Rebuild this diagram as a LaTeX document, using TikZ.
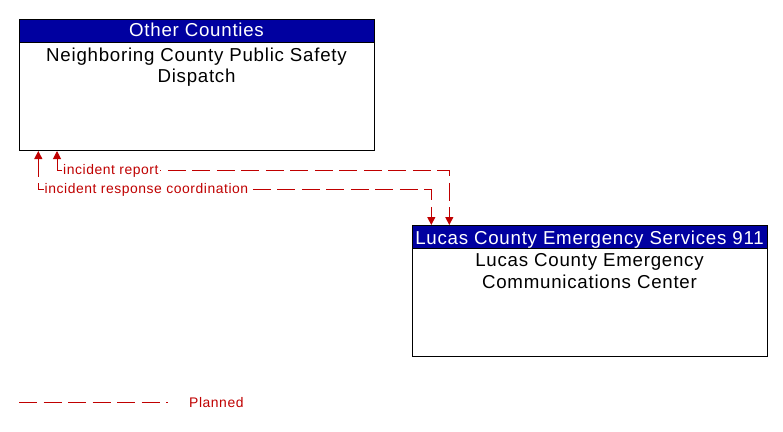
\documentclass[tikz,border=0pt]{standalone}
\usepackage{fontspec}
\setmainfont{Liberation Sans}[LetterSpace=4]
\usetikzlibrary{arrows.meta,calc}
\definecolor{planred}{RGB}{192,0,0}
\definecolor{headblue}{RGB}{0,0,160}
\tikzset{
  box/.style={draw=black, line width=1pt, fill=white, inner sep=0pt, anchor=north west, minimum width=355pt},
  head/.style={draw=black, line width=1pt, fill=headblue, inner sep=0pt, anchor=north west, minimum width=355pt, minimum height=23pt},
  headtext/.style={text=white, inner sep=0pt, anchor=base, font=\fontsize{18.7pt}{22pt}\selectfont},
  bodytext/.style={text=black, inner sep=0pt, anchor=north, align=center, font=\fontsize{18.7pt}{21.6pt}\selectfont},
  planned/.style={draw=planred, line width=1pt, dash pattern=on 18pt off 6.5pt},
  tips/.style={{Triangle[length=8pt,width=8pt]}-{Triangle[length=8pt,width=8pt]}},
  flowlabel/.style={text=planred, fill=white, inner xsep=1pt, inner ysep=1pt, anchor=base west, font=\fontsize{13.9pt}{16pt}\selectfont},
}
\begin{document}
\begin{tikzpicture}
\useasboundingbox[fill=white] (0pt,0pt) rectangle (783pt,-431pt);
% Top box
\node[box, minimum height=131pt] (ncd) at (19pt,-19pt) {};
\node[head] (ncdh) at (19pt,-19pt) {};
\node[headtext] (ncdht) at (196.5pt,-36.7pt) {Other Counties};
\node[bodytext] (ncdt) at (196.5pt,-47.5pt) {Neighboring County Public Safety\\Dispatch};
% Bottom box
\node[box, minimum height=131pt] (lcec) at (412pt,-225pt) {};
\node[head] (lcech) at (412pt,-225pt) {};
\node[headtext] (lcecht) at (589.5pt,-244pt) {Lucas County Emergency Services 911};
\node[bodytext] (lcect) at (589.5pt,-253.3pt) {Lucas County Emergency\\Communications Center};
% Flows
\draw[planned, tips] ([xshift=38pt]ncd.south west) -- ++(0,-19.3pt) -| ([xshift=37.3pt]lcec.north west);
\draw[planned, tips] ([xshift=19.3pt]ncd.south west) -- ++(0,-38.3pt) -| ([xshift=19.3pt]lcec.north west);
\node[flowlabel] (irl) at (62pt,-174.5pt) {incident report};
\node[flowlabel] (ircl) at (43.5pt,-193.5pt) {incident response coordination};
% Legend
\coordinate (lg1) at (19pt,-402pt);
\coordinate (lg2) at (168pt,-402pt);
\draw[planned] (lg1) -- (lg2);
\node[flowlabel] (lgt) at (188pt,-407.5pt) {Planned};
\end{tikzpicture}
\end{document}
